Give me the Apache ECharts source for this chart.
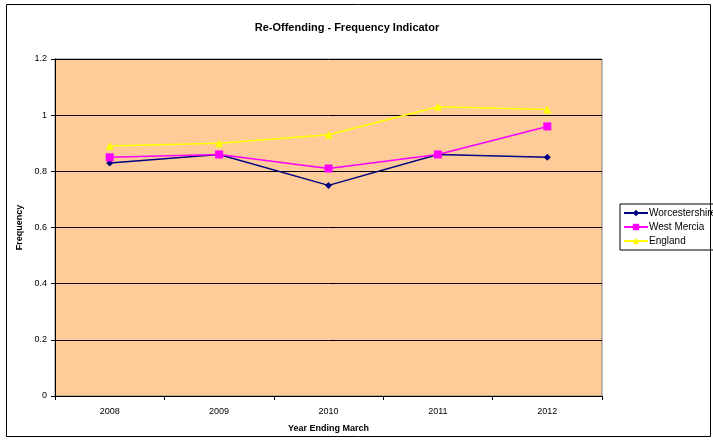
<!DOCTYPE html>
<html><head><meta charset="utf-8">
<script src="https://cdn.jsdelivr.net/npm/echarts@6/dist/echarts.min.js"></script>
<style>html,body{margin:0;padding:0;background:#fff}#c{width:713px;height:440px}</style>
</head><body><div id="c"></div>
<script>
const categories = ['2008','2009','2010','2011','2012'];
const worcestershire = [0.83, 0.86, 0.75, 0.86, 0.85];
const westMercia = [0.85, 0.86, 0.81, 0.86, 0.96];
const england = [0.89, 0.90, 0.93, 1.03, 1.02];
const yTicks = [0, 0.2, 0.4, 0.6, 0.8, 1, 1.2];

const FONT = '"Liberation Sans", Arial, sans-serif';
const chart = echarts.init(document.getElementById('c'), null, {renderer: 'canvas'});
chart.setOption({
  animation: false,
  backgroundColor: '#fff',
  title: {
    text: 'Re-Offending - Frequency Indicator', left: 342, top: 17, textAlign: 'center',
    textStyle: {fontFamily: FONT, fontSize: 11, fontWeight: 'bold', color: '#000'}
  },
  graphic: [
    {type: 'rect', shape: {x: 6.5, y: 4.5, width: 704, height: 432}, style: {fill: null, stroke: '#000', lineWidth: 1}, z: 100}
  ],
  grid: {left: 55, right: 111, top: 59, bottom: 44, show: true, backgroundColor: '#FFCC99', borderColor: '#808080', borderWidth: 1},
  legend: {
    orient: 'vertical', left: 620, top: 204,
    data: ['Worcestershire', 'West Mercia', 'England'],
    backgroundColor: '#fff', borderColor: '#000', borderWidth: 1,
    padding: [4, 4, 4, 3], itemGap: 4, itemWidth: 24, itemHeight: 8,
    textStyle: {fontFamily: FONT, fontSize: 10, color: '#000', padding: [0, 0, 0, -4]}
  },
  xAxis: {
    type: 'category', data: categories, boundaryGap: true,
    name: 'Year Ending March', nameLocation: 'middle', nameGap: 28,
    nameTextStyle: {fontFamily: FONT, fontSize: 9, fontWeight: 'bold', color: '#000'},
    axisLine: {lineStyle: {color: '#000', width: 1}},
    axisTick: {show: true, inside: false, length: 4, lineStyle: {color: '#000'}},
    axisLabel: {fontFamily: FONT, fontSize: 9, color: '#000', margin: 11},
    splitLine: {show: false}
  },
  yAxis: {
    type: 'value', min: 0, max: 1.2, interval: 0.2,
    name: 'Frequency', nameLocation: 'middle', nameGap: 28,
    nameTextStyle: {fontFamily: FONT, fontSize: 9, fontWeight: 'bold', color: '#000'},
    axisLine: {show: true, lineStyle: {color: '#000', width: 1}},
    axisTick: {show: true, inside: false, length: 4, lineStyle: {color: '#000'}},
    axisLabel: {fontFamily: FONT, fontSize: 9, color: '#000', margin: 8,
      formatter: v => { const t = yTicks.find(x => Math.abs(x - v) < 1e-9); return t === undefined ? '' : String(t); }},
    splitLine: {show: true, lineStyle: {color: '#000', width: 1}}
  },
  series: [
    {name: 'Worcestershire', type: 'line', data: worcestershire, color: '#000080',
      symbol: 'diamond', symbolSize: 7, lineStyle: {width: 1.5}, itemStyle: {color: '#000080'}},
    {name: 'West Mercia', type: 'line', data: westMercia, color: '#FF00FF',
      symbol: 'rect', symbolSize: 8, lineStyle: {width: 1.5}, itemStyle: {color: '#FF00FF'}},
    {name: 'England', type: 'line', data: england, color: '#FFFF00',
      symbol: 'triangle', symbolSize: 8, lineStyle: {width: 1.5}, itemStyle: {color: '#FFFF00'}}
  ]
});
</script></body></html>
